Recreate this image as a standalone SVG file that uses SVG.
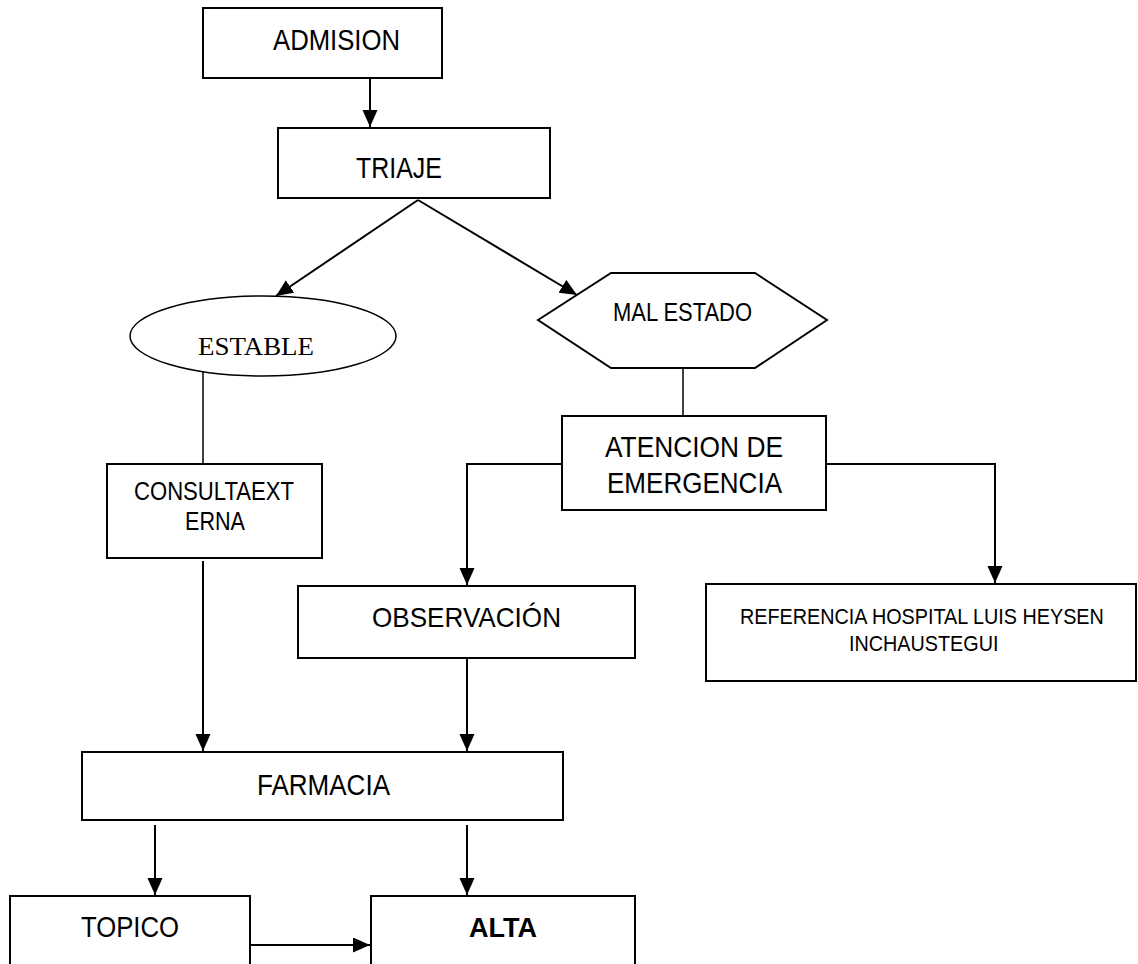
<svg xmlns="http://www.w3.org/2000/svg" width="1138" height="964" viewBox="0 0 1138 964">
<style>
.box{fill:#fff;stroke:#000;stroke-width:2}
.t{font-family:"Liberation Sans",Arial,sans-serif;fill:#000}
.s{font-family:"Liberation Serif","Times New Roman",serif;fill:#000}
.ln{fill:none;stroke:#000;stroke-width:2}
.ln1{fill:none;stroke:#000;stroke-width:1.5}
</style>
<defs>
<marker id="ah" markerUnits="userSpaceOnUse" markerWidth="18" markerHeight="16" refX="17" refY="7.5" orient="auto">
<path d="M0,0 L17,7.5 L0,15 z" fill="#000"/>
</marker>
</defs>
<rect width="1138" height="964" fill="#fff"/>
<g id="connectors">
<line class="ln" x1="370" y1="79" x2="370" y2="127" marker-end="url(#ah)"/>
<line class="ln" x1="418" y1="200" x2="276" y2="296" marker-end="url(#ah)"/>
<line class="ln" x1="418" y1="200" x2="577" y2="295" marker-end="url(#ah)"/>
<line class="ln1" x1="203" y1="372" x2="203" y2="464"/>
<line class="ln1" x1="683" y1="368" x2="683" y2="416"/>
<polyline class="ln" points="562,464 467,464 467,585" marker-end="url(#ah)"/>
<polyline class="ln" points="826,464 995,464 995,583" marker-end="url(#ah)"/>
<line class="ln" x1="203" y1="561" x2="203" y2="751" marker-end="url(#ah)"/>
<line class="ln" x1="467" y1="659" x2="467" y2="751" marker-end="url(#ah)"/>
<line class="ln" x1="155" y1="825" x2="155" y2="895" marker-end="url(#ah)"/>
<line class="ln" x1="467" y1="825" x2="467" y2="895" marker-end="url(#ah)"/>
<line class="ln" x1="250" y1="945" x2="370" y2="945" marker-end="url(#ah)"/>
</g>
<g id="admision">
<rect class="box" x="203" y="8" width="239" height="70"/>
<text class="t" x="273" y="50" font-size="29" textLength="127" lengthAdjust="spacingAndGlyphs">ADMISION</text>
</g>
<g id="triaje">
<rect class="box" x="278" y="128" width="272" height="70"/>
<text class="t" x="356" y="178" font-size="29" textLength="86" lengthAdjust="spacingAndGlyphs">TRIAJE</text>
</g>
<g id="estable">
<ellipse cx="263" cy="336" rx="133" ry="40" fill="#fff" stroke="#000" stroke-width="1.5"/>
<text class="s" x="198" y="355" font-size="26" textLength="116" lengthAdjust="spacingAndGlyphs">ESTABLE</text>
</g>
<g id="mal-estado">
<polygon class="box" points="538,320 611,273 755,273 827,320 755,368 611,368"/>
<text class="t" x="613" y="321" font-size="25" textLength="139" lengthAdjust="spacingAndGlyphs">MAL ESTADO</text>
</g>
<g id="atencion">
<rect class="box" x="562" y="416" width="264" height="94"/>
<text class="t" x="605" y="457" font-size="29" textLength="178" lengthAdjust="spacingAndGlyphs">ATENCION DE</text>
<text class="t" x="607" y="493" font-size="29" textLength="175" lengthAdjust="spacingAndGlyphs">EMERGENCIA</text>
</g>
<g id="consulta">
<rect class="box" x="107" y="464" width="215" height="94"/>
<text class="t" x="134" y="500" font-size="26" textLength="160" lengthAdjust="spacingAndGlyphs">CONSULTAEXT</text>
<text class="t" x="185" y="530" font-size="26" textLength="60" lengthAdjust="spacingAndGlyphs">ERNA</text>
</g>
<g id="observacion">
<rect class="box" x="298" y="586" width="337" height="72"/>
<text class="t" x="372" y="627" font-size="28" textLength="189" lengthAdjust="spacingAndGlyphs">OBSERVACIÓN</text>
</g>
<g id="referencia">
<rect class="box" x="706" y="584" width="430" height="97"/>
<text class="t" x="0" y="0" font-size="22" transform="translate(740,624) scale(0.9,1)">REFERENCIA HOSPITAL LUIS HEYSEN</text>
<text class="t" x="0" y="0" font-size="22" transform="translate(849,651) scale(0.9,1)">INCHAUSTEGUI</text>
</g>
<g id="farmacia">
<rect class="box" x="82" y="752" width="481" height="68"/>
<text class="t" x="257" y="795" font-size="29" textLength="133" lengthAdjust="spacingAndGlyphs">FARMACIA</text>
</g>
<g id="topico">
<rect class="box" x="10" y="896" width="240" height="80"/>
<text class="t" x="81" y="937" font-size="29" textLength="98" lengthAdjust="spacingAndGlyphs">TOPICO</text>
</g>
<g id="alta">
<rect class="box" x="371" y="896" width="264" height="80"/>
<text class="t" x="469" y="937" font-size="28" font-weight="bold" textLength="68" lengthAdjust="spacingAndGlyphs">ALTA</text>
</g>
</svg>
